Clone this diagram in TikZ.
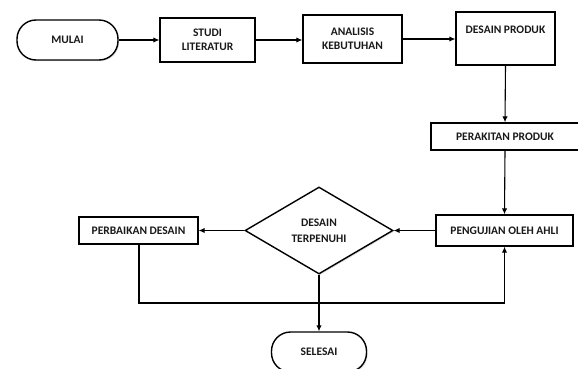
\documentclass[tikz,border=0pt]{standalone}
\usepackage{fontspec}
\setmainfont{Carlito}[BoldFont={Carlito Bold}]
\usetikzlibrary{shapes.geometric,arrows.meta,shadows}
\begin{document}
\begin{tikzpicture}[x=1pt,y=-1pt,
  every node/.style={font=\bfseries\fontsize{11.5}{14.5}\selectfont, text=black!90, align=center},
  shd/.style={drop shadow={opacity=0.25, shadow xshift=1.2pt, shadow yshift=-1.2pt}},
  box/.style={draw, line width=1.4pt, fill=white, shd, inner sep=0pt},
  term/.style={box, rounded corners=19pt},
  dec/.style={draw, line width=1.4pt, fill=white, shd, diamond, inner sep=0pt},
  conn/.style={line width=1.1pt, -{Latex[length=6pt,width=5.5pt]}}]
\useasboundingbox (0,0) rectangle (578,369);
\node[term, minimum width=101, minimum height=40] (mulai) at (67.5,40) {MULAI};
\node[box, minimum width=95, minimum height=44] (studi) at (207.5,40) {STUDI\\LITERATUR};
\node[box, minimum width=99, minimum height=48] (analisis) at (352.5,39) {ANALISIS\\KEBUTUHAN};
\node[box, minimum width=99, minimum height=53,
  label={[anchor=north, yshift=-11.5pt, font=\bfseries\fontsize{11.5}{14.5}\selectfont, text=black!90]north:DESAIN PRODUK}] (desain) at (505.5,38.5) {};
\node[box, minimum width=148, minimum height=27] (perakitan) at (505,136.5) {PERAKITAN PRODUK};
\node[box, minimum width=137, minimum height=31] (pengujian) at (504.5,230.5) {PENGUJIAN OLEH AHLI};
\node[dec, minimum width=148, minimum height=87] (cek) at (319,230.5) {DESAIN\\[1.5pt]TERPENUHI};
\node[box, minimum width=119, minimum height=27] (perbaikan) at (138.5,230.5) {PERBAIKAN DESAIN};
\node[term, minimum width=95, minimum height=40] (selesai) at (319,352) {SELESAI};
\draw[conn] (mulai.east) -- (studi.west);
\draw[conn] (studi.east) -- (analisis.west |- studi.east);
\draw[conn] (analisis.east) -- (analisis.east -| desain.west);
\draw[conn] (desain.south) -- (perakitan.north);
\draw[conn] (perakitan.south) -- (pengujian.north);
\draw[conn] (pengujian.west) -- (cek.east);
\draw[conn] (cek.west) -- (perbaikan.east);
\draw[conn] (cek.south) -- (selesai.north);
\coordinate (c1) at (139,303);
\draw[conn] (perbaikan.south -| c1) -- (c1) -| (pengujian.south);
\end{tikzpicture}
\end{document}
